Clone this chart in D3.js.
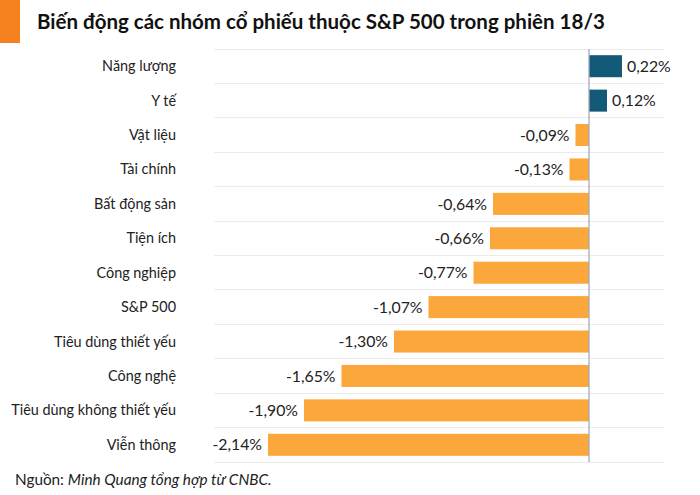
<!DOCTYPE html>
<html>
<head>
<meta charset="utf-8">
<script src="https://cdn.jsdelivr.net/npm/d3@7"></script>
<style>
  body { margin: 0; background: #fff; }
  svg { font-family: Lato, "Open Sans", sans-serif; }
</style>
</head>
<body>
<div id="chart"></div>
<script>
const categories = [
  'Năng lượng', 'Y tế', 'Vật liệu', 'Tài chính', 'Bất động sản', 'Tiện ích',
  'Công nghiệp', 'S&P 500', 'Tiêu dùng thiết yếu', 'Công nghệ',
  'Tiêu dùng không thiết yếu', 'Viễn thông'
];
const values = [0.22, 0.12, -0.09, -0.13, -0.64, -0.66, -0.77, -1.07, -1.30, -1.65, -1.90, -2.14];
const titleText = 'Biến động các nhóm cổ phiếu thuộc S&P 500 trong phiên 18/3';
const sourceLabel = 'Nguồn: ';
const sourceText = 'Minh Quang tổng hợp từ CNBC.';

const width = 700, height = 495;
const svg = d3.select('#chart').append('svg')
  .attr('width', width).attr('height', height);

// orange tab + title
svg.append('rect').attr('x', 0).attr('y', 0).attr('width', 20).attr('height', 43)
  .attr('fill', '#f5821f');
svg.append('text').attr('x', 37).attr('y', 29)
  .attr('font-size', 20.5).attr('font-weight', 700).attr('fill', '#111')
  .text(titleText);

/* ---------------- SCALES ---------------- */
const x = d3.scaleLinear().domain([-2.5, 0.5]).range([214, 664]);
const y = d3.scaleBand().domain(categories).range([49, 462]).paddingInner(0.36).paddingOuter(0.18);

// row separators
const seps = d3.range(categories.length + 1).map(i => 49 + i * (462 - 49) / categories.length);
svg.append('g').selectAll('line').data(seps).join('line')
  .attr('x1', x.range()[0]).attr('x2', x.range()[1])
  .attr('y1', d => d).attr('y2', d => d)
  .attr('stroke', '#ebebeb').attr('stroke-width', 1).attr('shape-rendering', 'crispEdges');

// bars
svg.append('g').selectAll('rect').data(values).join('rect')
  .attr('x', d => x(Math.min(0, d)))
  .attr('width', d => Math.abs(x(d) - x(0)))
  .attr('y', (d, i) => y(categories[i]))
  .attr('height', y.bandwidth())
  .attr('fill', d => d >= 0 ? '#135a79' : '#fba73b');

// zero line
svg.append('line').attr('x1', x(0)).attr('x2', x(0)).attr('y1', 49).attr('y2', 462)
  .attr('stroke', '#a3abba').attr('stroke-width', 1.3);

// category labels
svg.append('g').selectAll('text').data(categories).join('text')
  .attr('x', 176)
  .attr('y', d => y(d) + y.bandwidth() / 2)
  .attr('dy', '0.35em')
  .attr('text-anchor', 'end')
  .attr('font-size', 14.4).attr('fill', '#222')
  .text(d => d);

// value labels
const fmt = v => d3.format('.2f')(v).replace('.', ',').replace('−', '-') + '%';
svg.append('g').selectAll('text').data(values).join('text')
  .attr('x', d => d >= 0 ? x(d) + 5 : x(d) - 6)
  .attr('y', (d, i) => y(categories[i]) + y.bandwidth() / 2)
  .attr('dy', '0.36em')
  .attr('text-anchor', d => d >= 0 ? 'start' : 'end')
  .attr('font-size', 15.8).attr('fill', '#222')
  .text(fmt);

// source
const src = svg.append('text').attr('x', 15).attr('y', 485)
  .attr('font-size', 15.3).attr('fill', '#222');
src.append('tspan').text(sourceLabel);
src.append('tspan').attr('font-style', 'italic').text(sourceText);
</script>
</body>
</html>
